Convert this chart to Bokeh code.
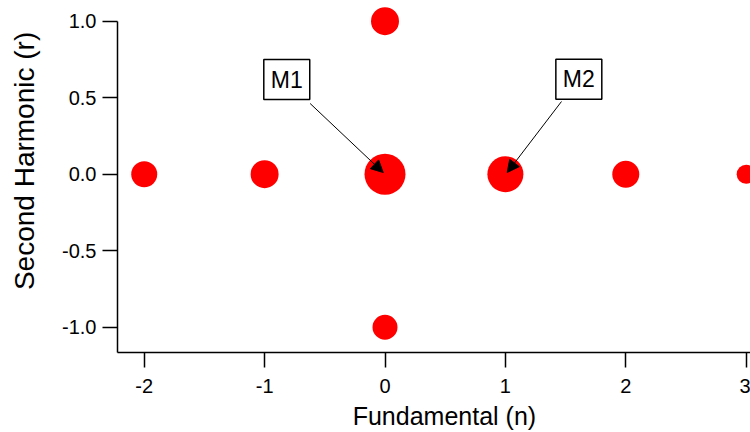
from bokeh.plotting import figure
from bokeh.models import (Range1d, FixedTicker, PrintfTickFormatter, Label,
                          Arrow, NormalHead, ColumnDataSource, LinearAxis)
from bokeh.embed import file_html
from bokeh.resources import INLINE

# ---- data ----
n_vals = [-2, -1, 0, 1, 2, 3, 0, 0]
r_vals = [0, 0, 0, 0, 0, 0, 1.0, -1.0]
marker_sizes = [26, 28, 41, 36, 27, 19, 28, 25]
x_ticks = [-2, -1, 0, 1, 2, 3]
y_ticks = [-1.0, -0.5, 0.0, 0.5, 1.0]
x_title = "Fundamental (n)"
y_title = "Second Harmonic (r)"
annot_text = ["M1", "M2"]

FONT = "Liberation Sans"
NBSP = "\u00a0"

p = figure(width=750, height=432, output_backend="svg", toolbar_location=None,
           x_range=Range1d(-2.222, 3.036), y_range=Range1d(-1.165, 1.135),
           min_border_left=117, min_border_right=0, min_border_top=0,
           min_border_bottom=80)
p.outline_line_color = None
p.xgrid.visible = False
p.ygrid.visible = False
p.background_fill_color = "white"
p.border_fill_color = "white"

src = ColumnDataSource(dict(x=n_vals, y=r_vals, s=marker_sizes))
p.scatter("x", "y", size="s", source=src, fill_color="#FF0000",
          line_color=None)

for ax in (p.xaxis[0], p.yaxis[0]):
    ax.axis_line_width = 1.5
    ax.axis_line_color = "black"
    ax.major_tick_line_width = 1.5
    ax.major_tick_line_color = "black"
    ax.major_tick_out = 15
    ax.major_tick_in = 0
    ax.minor_tick_out = 0
    ax.minor_tick_in = 0
    ax.major_label_text_font = FONT
    ax.major_label_text_font_size = "20px"
    ax.major_label_text_color = "black"

p.xaxis.ticker = FixedTicker(ticks=x_ticks)
p.yaxis.ticker = FixedTicker(ticks=y_ticks)
p.xaxis.formatter = PrintfTickFormatter(format="%d")
p.yaxis.formatter = PrintfTickFormatter(format="%.1f")
p.yaxis.bounds = (-1.165, 1.0)
p.xaxis.major_label_standoff = 11
p.yaxis.major_label_standoff = 6


def title_axis(text, size, standoff):
    return LinearAxis(axis_label=text, ticker=FixedTicker(ticks=[]),
                      axis_line_color=None, major_tick_line_color=None,
                      minor_tick_line_color=None,
                      major_label_text_font_size="0px",
                      axis_label_standoff=standoff,
                      axis_label_text_font=FONT,
                      axis_label_text_font_size=size,
                      axis_label_text_font_style="normal",
                      axis_label_text_color="black")


# axis titles on extra, otherwise invisible axes (leading no-break spaces
# shift the centred title along the axis as in the reference)
p.add_layout(title_axis(NBSP * 4 + y_title, "28px", 20), "left")
p.add_layout(title_axis(NBSP * 3 + x_title, "25px", 6), "below")

# annotations
box_pos = [(-0.816, 0.618), (1.610, 0.620)]
arrow_pos = [((-0.622, 0.462), (-0.015, 0.011)), ((1.466, 0.475), (1.015, 0.011))]
for t, (bx, by), ((xs, ys), (xe, ye)) in zip(annot_text, box_pos, arrow_pos):
    p.add_layout(Arrow(x_start=xs, y_start=ys, x_end=xe, y_end=ye,
                       line_color="black", line_width=1,
                       end=NormalHead(size=12, fill_color="black",
                                      line_color="black", line_width=1)))
    p.add_layout(Label(x=bx, y=by, text=t, text_font=FONT,
                       text_font_size="23px", text_align="center",
                       text_baseline="middle", text_color="black",
                       background_fill_color="white",
                       border_line_color="black", border_line_width=1.5,
                       padding=7))

open("out.html", "w").write(file_html(p, INLINE))
